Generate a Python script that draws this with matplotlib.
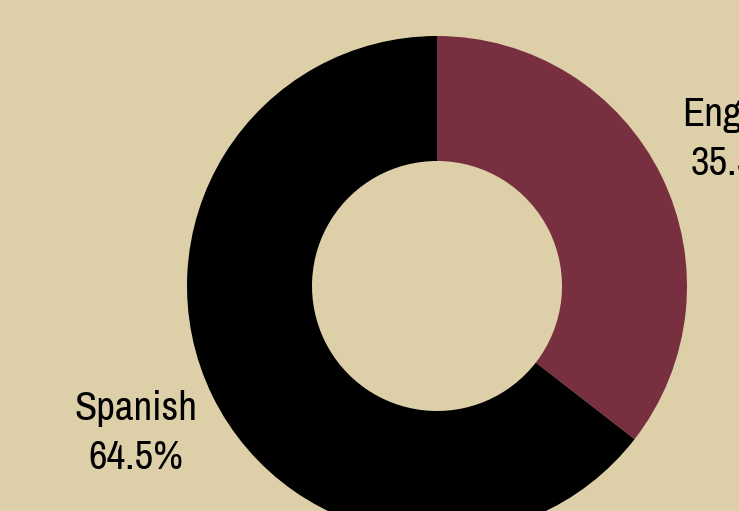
import matplotlib
matplotlib.use("Agg")
import matplotlib.pyplot as plt

languages = ["English", "Spanish"]
shares = [35.5, 64.5]
colors = ["#782F40", "#000000"]
bg = "#DDD0A8"

fig = plt.figure(figsize=(7.39, 5.11), dpi=100, facecolor=bg)
# axes placed so the ring centre sits at (437, 286) px with radius 250 px
ax = fig.add_axes([187 / 739, (511 - 536) / 511, 500 / 739, 500 / 511])
ax.set_facecolor(bg)

labels = ["{}\n{:.1f}%".format(l, s) for l, s in zip(languages, shares)]
wedges, texts = ax.pie(shares, labels=labels, colors=colors, startangle=90,
                       counterclock=False, radius=1,
                       wedgeprops=dict(width=0.5, edgecolor="none"),
                       labeldistance=1.34,
                       textprops=dict(fontsize=29.3, family=["Archivo Narrow", "DejaVu Sans"],
                                      color="black", va="center", linespacing=1.4))
for t in texts:
    t.set_horizontalalignment("center")
ax.set_xlim(-1, 1)
ax.set_ylim(-1, 1)
ax.set_aspect("equal")
ax.axis("off")

fig.savefig("out.png", dpi=100, facecolor=bg)
